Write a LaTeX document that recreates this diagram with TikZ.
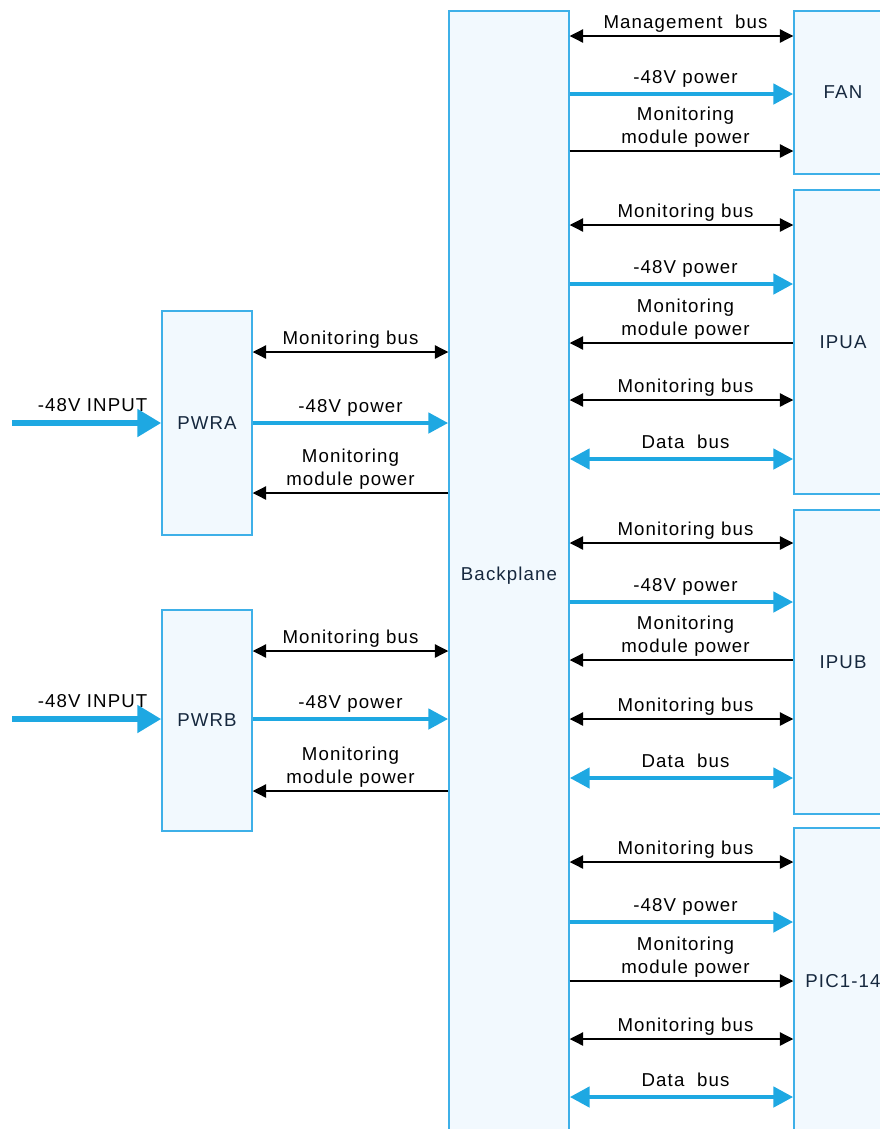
\documentclass[tikz,border=0pt]{standalone}
\usepackage{fontspec}
\setmainfont{Liberation Sans}[LetterSpace=6]
\usetikzlibrary{arrows.meta}
\definecolor{lineblue}{RGB}{30,168,226}
\definecolor{boxdraw}{RGB}{62,176,232}
\definecolor{boxfill}{RGB}{242,249,254}
\definecolor{boxtext}{RGB}{22,40,62}
\begin{document}
\begin{tikzpicture}[x=0.75pt,y=-0.75pt,
 every node/.style={font=\fontsize{14pt}{17.5pt}\selectfont},
 box/.style={draw=boxdraw,fill=boxfill,line width=1.1pt,inner sep=0pt,text=boxtext},
 kR/.style={draw=black,line width=0.9pt,-{Triangle[length=10pt,width=10pt]}},
 kL/.style={draw=black,line width=0.9pt,{Triangle[length=10pt,width=10pt]}-},
 kLR/.style={draw=black,line width=0.9pt,{Triangle[length=10pt,width=10pt]}-{Triangle[length=10pt,width=10pt]}},
 bR/.style={draw=lineblue,line width=3.6pt,-{Triangle[length=15pt,width=15pt]}},
 bLR/.style={draw=lineblue,line width=3.6pt,{Triangle[length=15pt,width=15pt]}-{Triangle[length=15pt,width=15pt]}},
 inR/.style={draw=lineblue,line width=5.2pt,-{Triangle[length=18pt,width=20pt]}},
 lk/.style={midway,anchor=south,inner sep=0pt,text depth=0pt,yshift=5pt,align=center},
 lb/.style={midway,anchor=south,inner sep=0pt,text depth=0pt,yshift=6pt,align=center},
 inl/.style={midway,anchor=south,inner sep=0pt,text depth=0pt,yshift=6pt,xshift=4.5pt},
 rs/.style={xshift=3pt}]
\useasboundingbox (0,0) rectangle (880,1129);
\clip (0,0) rectangle (880,1129);
% boxes
\node[box,minimum width=90pt,minimum height=846.75pt] (bp) at (509,575.5) {Backplane};
\node[box,minimum width=73.5pt,minimum height=122.25pt] (fan) at (843,92.5) {FAN};
\node[box,minimum width=73.5pt,minimum height=228pt] (ipua) at (843,342) {IPUA};
\node[box,minimum width=73.5pt,minimum height=228pt] (ipub) at (843,662) {IPUB};
\node[box,minimum width=73.5pt,minimum height=229.5pt] (pic) at (843,981) {PIC1-14};
\node[box,minimum width=67.5pt,minimum height=168pt] (pwra) at (207,423) {PWRA};
\node[box,minimum width=67.5pt,minimum height=165.75pt] (pwrb) at (207,720.5) {PWRB};
% FAN
\draw[kLR] (bp.east |- 0,36) -- (fan.west |- 0,36) node[lk,rs] {Management\ \ bus};
\draw[bR] (bp.east |- 0,94) -- (fan.west |- 0,94) node[lb,rs] {-48V power};
\draw[kR] (bp.east |- 0,151) -- (fan.west |- 0,151) node[lk,rs] {Monitoring\\module power};
% IPUA
\draw[kLR] (bp.east |- 0,225) -- (ipua.west |- 0,225) node[lk,rs] {Monitoring bus};
\draw[bR] (bp.east |- 0,284) -- (ipua.west |- 0,284) node[lb,rs] {-48V power};
\draw[kL] (bp.east |- 0,343) -- (ipua.west |- 0,343) node[lk,rs] {Monitoring\\module power};
\draw[kLR] (bp.east |- 0,400) -- (ipua.west |- 0,400) node[lk,rs] {Monitoring bus};
\draw[bLR] (bp.east |- 0,459) -- (ipua.west |- 0,459) node[lb,rs] {Data\ \ bus};
% IPUB
\draw[kLR] (bp.east |- 0,543) -- (ipub.west |- 0,543) node[lk,rs] {Monitoring bus};
\draw[bR] (bp.east |- 0,602) -- (ipub.west |- 0,602) node[lb,rs] {-48V power};
\draw[kL] (bp.east |- 0,660) -- (ipub.west |- 0,660) node[lk,rs] {Monitoring\\module power};
\draw[kLR] (bp.east |- 0,719) -- (ipub.west |- 0,719) node[lk,rs] {Monitoring bus};
\draw[bLR] (bp.east |- 0,778) -- (ipub.west |- 0,778) node[lb,rs] {Data\ \ bus};
% PIC
\draw[kLR] (bp.east |- 0,862) -- (pic.west |- 0,862) node[lk,rs] {Monitoring bus};
\draw[bR] (bp.east |- 0,922) -- (pic.west |- 0,922) node[lb,rs] {-48V power};
\draw[kR] (bp.east |- 0,981) -- (pic.west |- 0,981) node[lk,rs] {Monitoring\\module power};
\draw[kLR] (bp.east |- 0,1039) -- (pic.west |- 0,1039) node[lk,rs] {Monitoring bus};
\draw[bLR] (bp.east |- 0,1097) -- (pic.west |- 0,1097) node[lb,rs] {Data\ \ bus};
% PWRA
\draw[kLR] (pwra.east |- 0,352) -- (bp.west |- 0,352) node[lk] {Monitoring bus};
\draw[bR] (pwra.east |- 0,423) -- (bp.west |- 0,423) node[lb] {-48V power};
\draw[kR] (bp.west |- 0,493) -- (pwra.east |- 0,493) node[lk] {Monitoring\\module power};
% PWRB
\draw[kLR] (pwrb.east |- 0,651) -- (bp.west |- 0,651) node[lk] {Monitoring bus};
\draw[bR] (pwrb.east |- 0,719) -- (bp.west |- 0,719) node[lb] {-48V power};
\draw[kR] (bp.west |- 0,791) -- (pwrb.east |- 0,791) node[lk] {Monitoring\\module power};
% inputs
\coordinate (inA) at (12,423);
\coordinate (inB) at (12,719);
\draw[inR] (inA) -- (pwra.west |- inA) node[inl] {-48V INPUT};
\draw[inR] (inB) -- (pwrb.west |- inB) node[inl] {-48V INPUT};
\end{tikzpicture}
\end{document}
